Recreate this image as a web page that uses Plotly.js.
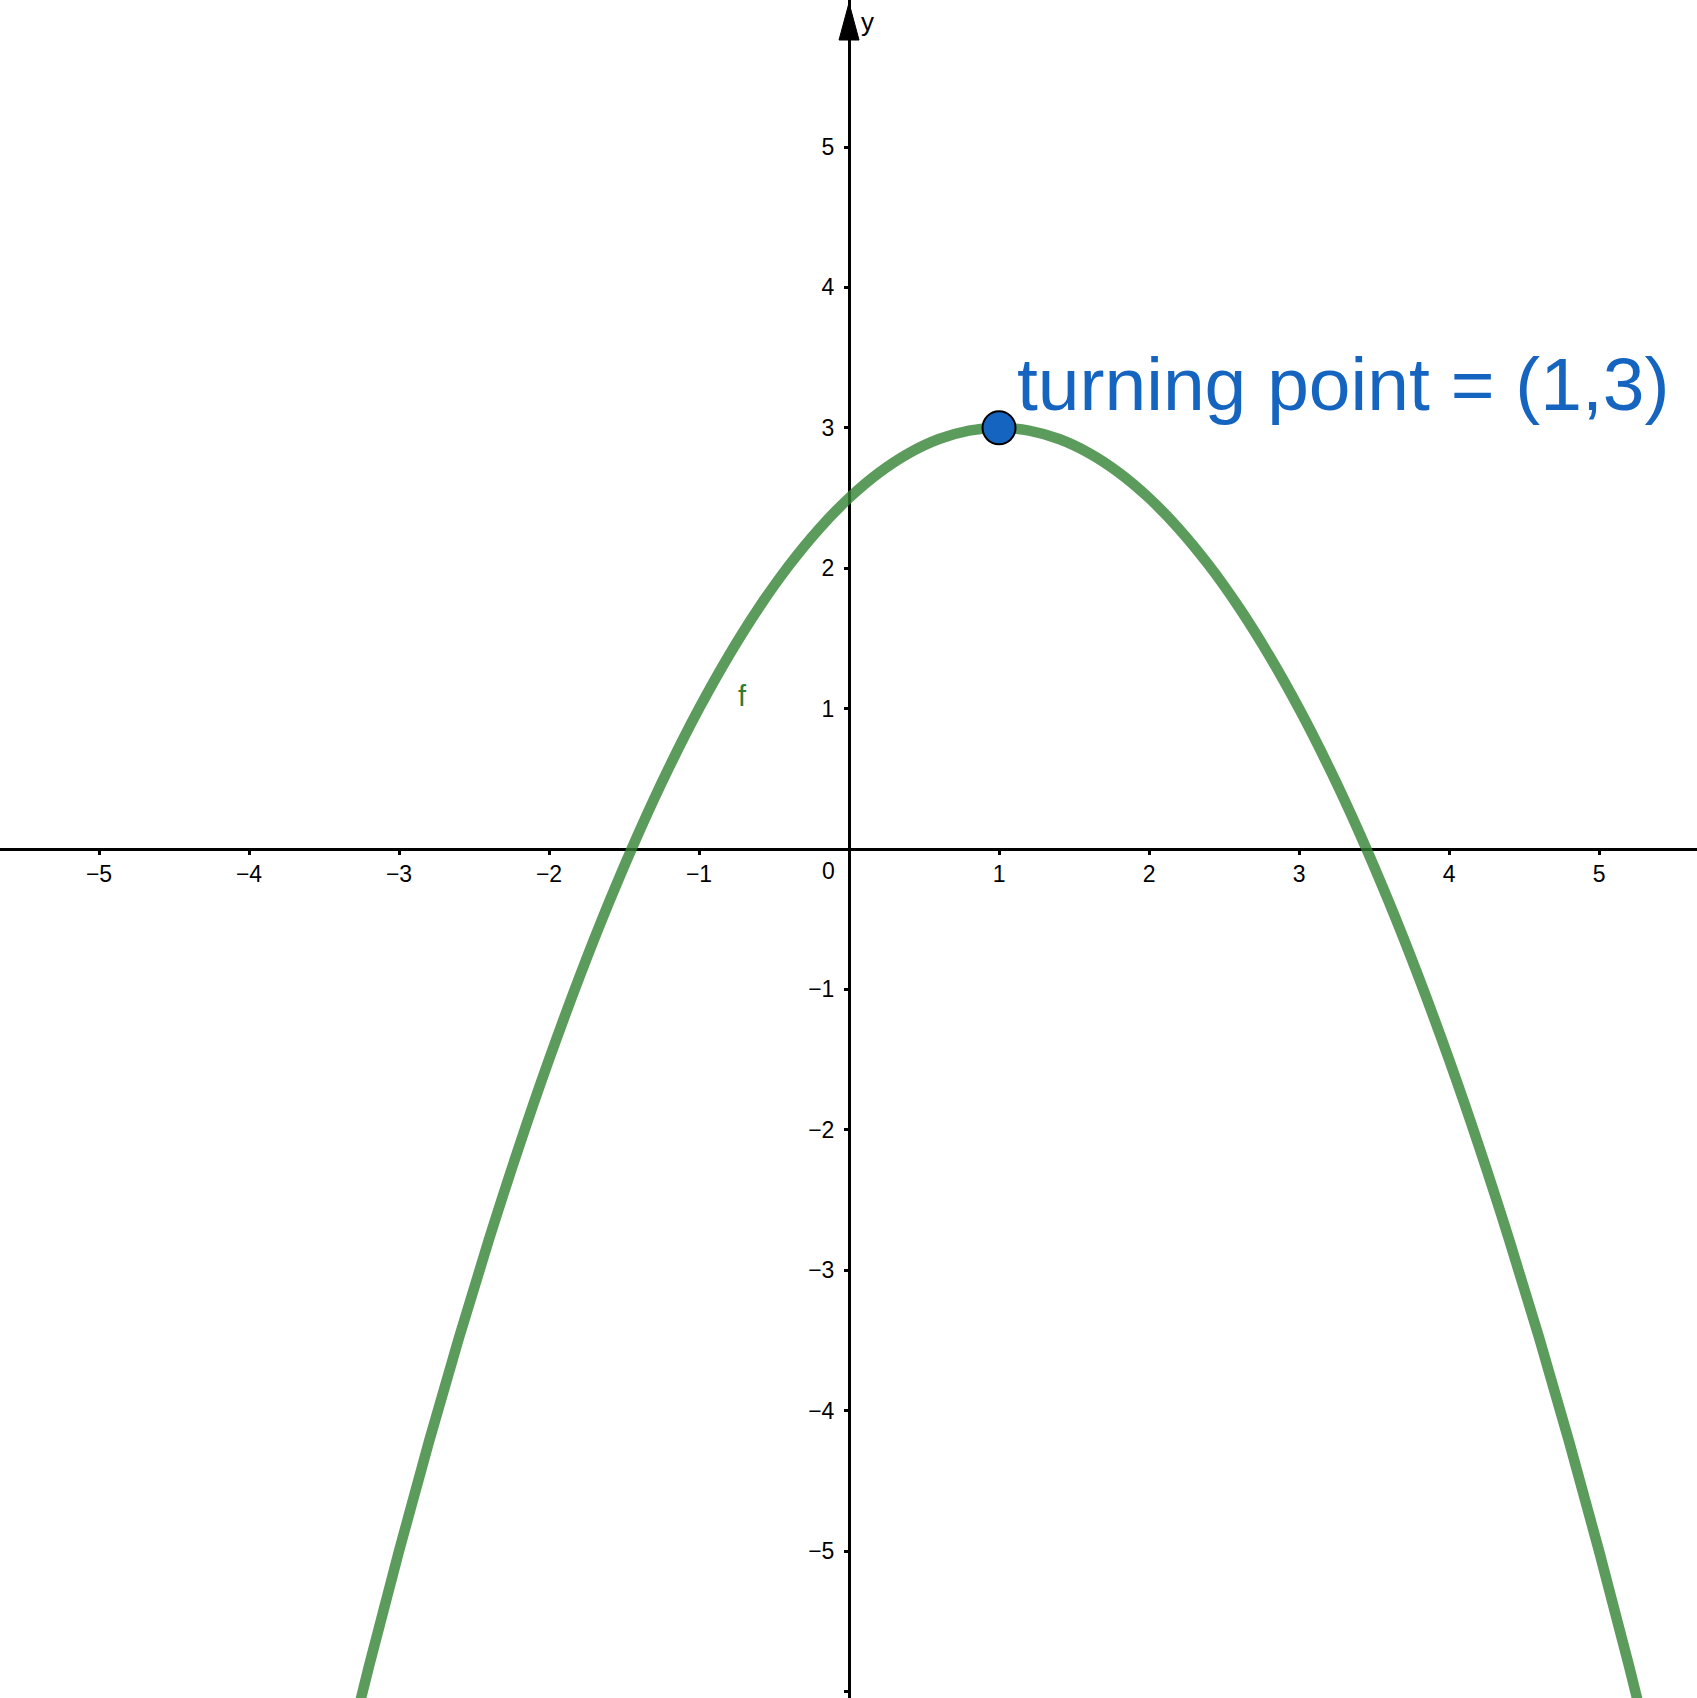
<!DOCTYPE html>
<html>
<head>
<meta charset="utf-8">
<script src="https://cdn.plot.ly/plotly-3.0.1.min.js"></script>
<style>html,body{margin:0;padding:0;background:#fff;}#chart{width:1697px;height:1698px;}</style>
</head>
<body>
<div id="chart"></div>
<script>
// Curve f (parabola with turning point (1,3))
const curveX = [-3.4,-3.2,-3.0,-2.8,-2.6,-2.4,-2.2,-2.0,-1.8,-1.6,-1.4,-1.2,-1.0,-0.8,-0.6,-0.4,-0.2,0,0.2,0.4,0.6,0.8,1.0,1.2,1.4,1.6,1.8,2.0,2.2,2.4,2.6,2.8,3.0,3.2,3.4,3.6,3.8,4.0,4.2,4.4,4.6,4.8,5.0,5.2,5.4];
const curveY = [-6.68,-5.82,-5.00,-4.22,-3.48,-2.78,-2.12,-1.50,-0.92,-0.38,0.12,0.58,1.00,1.38,1.72,2.02,2.28,2.50,2.68,2.82,2.92,2.98,3.00,2.98,2.92,2.82,2.68,2.50,2.28,2.02,1.72,1.38,1.00,0.58,0.12,-0.38,-0.92,-1.50,-2.12,-2.78,-3.48,-4.22,-5.00,-5.82,-6.68];
const pointX = [1];
const pointY = [3];
const pointLabel = "turning point = (1,3)";
const xTickVals = [-5,-4,-3,-2,-1,1,2,3,4,5];
const xTickText = ["−5","−4","−3","−2","−1","1","2","3","4","5"];
const yTickVals = [-6,-5,-4,-3,-2,-1,1,2,3,4,5];
const yTickText = ["","−5","−4","−3","−2","−1","1","2","3","4","5"];
const xRange = [-5.66, 5.653];
const yRange = [-6.047, 6.047];

const tickFont = {family: "Liberation Sans, Arial, sans-serif", size: 23, color: "#000"};

const traces = [
  {x: curveX, y: curveY, type: "scatter", mode: "lines",
   line: {color: "rgb(50,130,50)", width: 10.5, shape: "spline"}, opacity: 0.8,
   hoverinfo: "skip"},
  {x: pointX, y: pointY, type: "scatter", mode: "markers",
   marker: {size: 33, color: "#1565C0", line: {color: "#000", width: 2}},
   hoverinfo: "skip"}
];

const arrowHalfW = 0.0667, arrowBase = 5.762, arrowTip = 6.026;

const layout = {
  width: 1697, height: 1698,
  margin: {l: 0, r: 0, t: 0, b: 0, pad: 0},
  paper_bgcolor: "#fff", plot_bgcolor: "#fff",
  showlegend: false,
  xaxis: {range: xRange, anchor: "free", position: 0.5, showgrid: false, zeroline: false,
          showline: true, linecolor: "#000", linewidth: 3, layer: "below traces",
          tickmode: "array", tickvals: xTickVals, ticktext: xTickText,
          ticks: "outside", ticklen: 4, tickwidth: 3, tickcolor: "#000",
          tickfont: tickFont, ticklabelstandoff: -1, fixedrange: true},
  yaxis: {range: yRange, anchor: "free", position: 849/1697, showgrid: false, zeroline: false,
          showline: true, linecolor: "#000", linewidth: 3, layer: "below traces",
          tickmode: "array", tickvals: yTickVals, ticktext: yTickText,
          ticks: "outside", ticklen: 4, tickwidth: 3, tickcolor: "#000",
          tickfont: tickFont, ticklabelstandoff: 5, fixedrange: true},
  shapes: [
    {type: "path", xref: "x", yref: "y", layer: "above",
     path: `M ${-arrowHalfW},${arrowBase} L ${arrowHalfW},${arrowBase} L 0,${arrowTip} Z`,
     fillcolor: "#000", line: {color: "#000", width: 1}}
  ],
  annotations: [
    {x: 0, y: 0, xref: "x", yref: "y", text: "0", showarrow: false,
     xanchor: "center", yanchor: "middle", xshift: -21, yshift: -22, font: tickFont},
    {x: 0, y: 5.89, xref: "x", yref: "y", text: "y", showarrow: false,
     xanchor: "left", yanchor: "middle", xshift: 10, font: {family: "Liberation Sans, Arial, sans-serif", size: 26, color: "#000"}},
    {x: -0.707, y: 1.09, xref: "x", yref: "y", text: "f", showarrow: false,
     xanchor: "center", yanchor: "middle", font: {family: "Liberation Sans, Arial, sans-serif", size: 29, color: "#2e7d32"}},
    {x: pointX[0], y: pointY[0], xref: "x", yref: "y", text: pointLabel, showarrow: false,
     xanchor: "left", yanchor: "middle", xshift: 16, yshift: 44,
     font: {family: "Liberation Sans, Arial, sans-serif", size: 75, color: "#1565C0"}}
  ]
};

Plotly.newPlot("chart", traces, layout, {displayModeBar: false, staticPlot: true});
</script>
</body>
</html>
